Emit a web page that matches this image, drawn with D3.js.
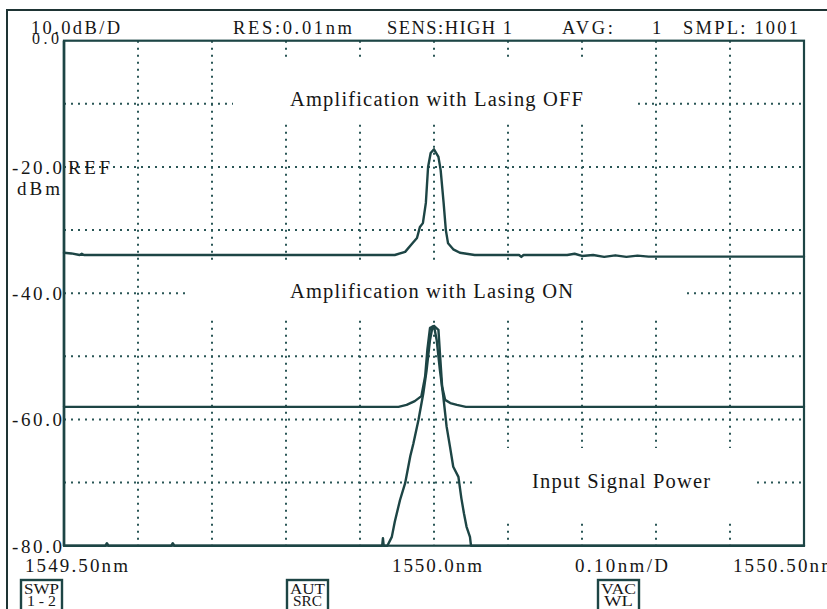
<!DOCTYPE html>
<html>
<head>
<meta charset="utf-8">
<script src="https://cdn.jsdelivr.net/npm/d3@7.9.0/dist/d3.min.js"></script>
<style>
  html, body { margin: 0; padding: 0; background: #fff; }
  svg { display: block; }
  text { font-family: "Liberation Serif", "Times New Roman", serif; fill: #161616; }
</style>
</head>
<body>
<svg id="chart" width="827" height="609"></svg>
<script>
// axis ranges and grid
const wavelengthRange = [1549.5, 1550.5];
const powerRange = [-80, 0];
const gridWavelengths = [1549.6, 1549.7, 1549.8, 1549.9, 1550.0, 1550.1, 1550.2, 1550.3, 1550.4];
const gridPowers = [-10, -20, -30, -40, -50, -60, -70];
const powerTicks = [0, -20, -40, -60, -80];
const powerTickLabels = ["0.0", "-20.0", "-40.0", "-60.0", "-80.0"];

// header / footer texts of the analyser screen
const headerTexts = ["10.0dB/D", "RES:0.01nm", "SENS:HIGH 1", "AVG:", "1", "SMPL: 1001"];
const footerTexts = ["1549.50nm", "1550.0nm", "0.10nm/D", "1550.50nm"];
const softKeys = [["SWP", "1 - 2"], ["AUT", "SRC"], ["VAC", "WL"]];
const traceLabels = ["Amplification with Lasing OFF", "Amplification with Lasing ON", "Input Signal Power"];

// traces: [wavelength nm, power dBm]
const lasingOff = [
  [1549.500, -33.6], [1549.510, -33.7], [1549.521, -33.95], [1549.524, -33.75], [1549.527, -33.95],
  [1549.947, -33.95], [1549.961, -33.45], [1549.970, -32.2], [1549.977, -31.25], [1549.981, -29.5],
  [1549.985, -28.9], [1549.989, -25.7], [1549.992, -20.0], [1549.9955, -17.8], [1550.000, -17.2],
  [1550.006, -18.4], [1550.009, -20.5], [1550.013, -25.7], [1550.016, -30.0], [1550.019, -32.1],
  [1550.026, -33.05], [1550.035, -33.6], [1550.055, -33.95], [1550.115, -33.95], [1550.118, -34.25],
  [1550.121, -33.95], [1550.180, -33.95], [1550.190, -33.75], [1550.200, -34.1], [1550.215, -33.95],
  [1550.230, -34.25], [1550.245, -34.0], [1550.260, -34.25], [1550.275, -34.05], [1550.290, -34.2],
  [1550.500, -34.2]
];
const lasingOn = [
  [1549.500, -58.0], [1549.952, -58.0], [1549.963, -57.7], [1549.974, -57.1], [1549.983, -56.3],
  [1549.988, -53.2], [1549.991, -49.0], [1549.9946, -45.5], [1550.000, -45.2], [1550.006, -45.8],
  [1550.008, -49.5], [1550.011, -54.8], [1550.015, -56.9], [1550.022, -57.4], [1550.031, -57.7],
  [1550.043, -58.0], [1550.500, -58.0]
];
const inputSignal = [
  [1549.500, -80], [1549.556, -80], [1549.558, -79.6], [1549.560, -80], [1549.645, -80],
  [1549.647, -79.6], [1549.649, -80], [1549.930, -80], [1549.931, -78.8], [1549.932, -80],
  [1549.937, -80], [1549.943, -78.6], [1549.947, -76.2], [1549.954, -72.8], [1549.961, -70.1],
  [1549.968, -65.8], [1549.972, -63.9], [1549.979, -60.1], [1549.9855, -55.9], [1549.990, -52.2],
  [1549.9946, -47.4], [1549.998, -45.3], [1550.000, -45.2], [1550.0036, -47.4], [1550.008, -52.2],
  [1550.0126, -56.4], [1550.017, -61.1], [1550.0216, -64.3], [1550.026, -67.5], [1550.033, -69.1],
  [1550.037, -72.5], [1550.0405, -74.9], [1550.044, -77.0], [1550.0486, -78.6], [1550.050, -80],
  [1550.500, -80]
];

const ink = "#1d4545";
const svg = d3.select("#chart");

const plot = { left: 64, right: 804, top: 40.7, bottom: 545.7 };
const x = d3.scaleLinear().domain(wavelengthRange).range([plot.left, plot.right]);
const y = d3.scaleLinear().domain(powerRange).range([plot.bottom, plot.top]);

// outer screen frame
svg.append("path")
  .attr("d", "M7,609 V10 H827")
  .attr("fill", "none").attr("stroke", "#1e3434").attr("stroke-width", 2);

// dotted grid
const grid = svg.append("g").attr("stroke", "#2a5656").attr("stroke-width", 2)
  .attr("stroke-dasharray", "2 5");
grid.selectAll(".vg").data(gridWavelengths).enter().append("line")
  .attr("x1", d => x(d)).attr("x2", d => x(d))
  .attr("y1", plot.top).attr("y2", plot.bottom);
grid.selectAll(".hg").data(gridPowers).enter().append("line")
  .attr("x1", plot.left).attr("x2", plot.right)
  .attr("y1", d => y(d)).attr("y2", d => y(d));

// the screen blanks the grid behind the trace labels
const gaps = [
  { x: 233, y: 60, w: 401, h: 62 },
  { x: 187, y: 260, w: 495, h: 58 },
  { x: 475, y: 448, w: 277, h: 75 }
];
svg.selectAll(".gap").data(gaps).enter().append("rect")
  .attr("x", d => d.x).attr("y", d => d.y).attr("width", d => d.w).attr("height", d => d.h)
  .attr("fill", "#fff");

// plot frame
svg.append("rect")
  .attr("x", plot.left).attr("y", plot.top)
  .attr("width", plot.right - plot.left).attr("height", plot.bottom - plot.top)
  .attr("fill", "none").attr("stroke", ink).attr("stroke-width", 2.2);
svg.append("line")
  .attr("x1", plot.left).attr("x2", plot.left).attr("y1", plot.top).attr("y2", plot.bottom)
  .attr("stroke", ink).attr("stroke-width", 2.6);

// traces
const line = d3.line().x(d => x(d[0])).y(d => y(d[1]));
[lasingOff, lasingOn, inputSignal].forEach(tr => {
  svg.append("path").datum(tr)
    .attr("d", line)
    .attr("fill", "none").attr("stroke", ink).attr("stroke-width", 2.4)
    .attr("stroke-linejoin", "round").attr("stroke-linecap", "round");
});

// helper for screen text with fixed spread
function label(str, x0, base, len, size) {
  const t = svg.append("text").attr("x", x0).attr("y", base)
    .attr("font-size", size || 19).text(str);
  if (len) t.attr("textLength", len).attr("lengthAdjust", "spacing");
  return t;
}

// header
const headerPos = [[31, 89], [233, 119], [387, 125], [562, 51], [652, 8], [683, 115]];
headerTexts.forEach((s, i) => label(s, headerPos[i][0], 33.5, headerPos[i][1], 18.5));

// y labels
powerTicks.forEach((v, i) => {
  const dy = i === 0 ? 3.5 : 7;
  const w = powerTickLabels[i].length === 3 ? 27 : 50;
  label(powerTickLabels[i], (i === 0 ? 59 : 62) - w, y(v) + dy, w, i === 0 ? 16 : 19);
});
label("REF", 68, y(-20) + 7, 42);
label("dBm", 17, 195, 43);

// footer
const footerPos = [[25, 103], [392, 90], [575, 93], [733, 103]];
footerTexts.forEach((s, i) => label(s, footerPos[i][0], 572, footerPos[i][1]));

// trace labels
const traceLabelPos = [[290, 106, 293], [290, 298, 283], [532, 488, 178]];
traceLabels.forEach((s, i) => label(s, traceLabelPos[i][0], traceLabelPos[i][1], traceLabelPos[i][2], 20.5));

// soft key boxes along the bottom
const keyPos = [{ x: 21, y: 580, w: 41 }, { x: 287, y: 580, w: 41 }, { x: 598, y: 580, w: 41 }];
softKeys.forEach((k, i) => {
  const p = keyPos[i];
  svg.append("rect").attr("x", p.x).attr("y", p.y).attr("width", p.w).attr("height", 40)
    .attr("fill", "none").attr("stroke", ink).attr("stroke-width", 2.4);
  k.forEach((s, j) => {
    svg.append("text").attr("x", p.x + p.w / 2).attr("y", p.y + 14 + j * 12)
      .attr("text-anchor", "middle").attr("font-size", 15).text(s)
      .attr("textLength", j === 0 ? p.w - 6 : p.w - 12).attr("lengthAdjust", "spacingAndGlyphs");
  });
});
</script>
</body>
</html>
